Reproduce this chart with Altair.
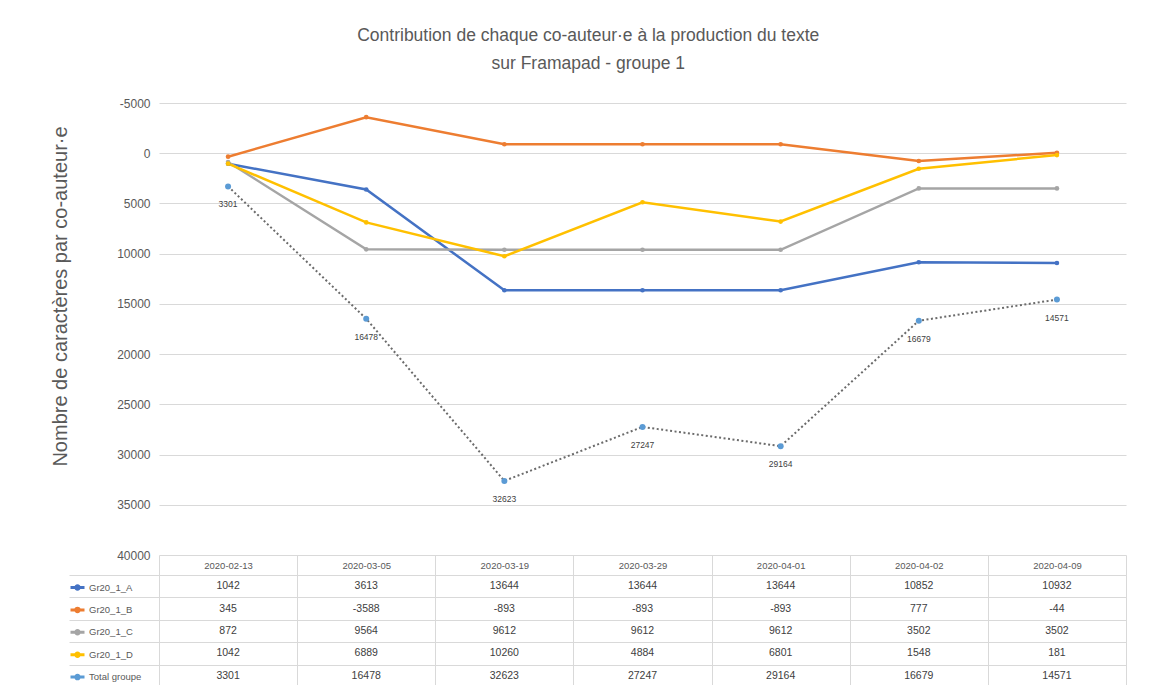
import altair as alt
import pandas as pd

dates = ["2020-02-13", "2020-03-05", "2020-03-19", "2020-03-29",
         "2020-04-01", "2020-04-02", "2020-04-09"]
series = ["Gr20_1_A", "Gr20_1_B", "Gr20_1_C", "Gr20_1_D", "Total groupe"]
values_A = [1042, 3613, 13644, 13644, 13644, 10852, 10932]
values_B = [345, -3588, -893, -893, -893, 777, -44]
values_C = [872, 9564, 9612, 9612, 9612, 3502, 3502]
values_D = [1042, 6889, 10260, 4884, 6801, 1548, 181]
values_T = [3301, 16478, 32623, 27247, 29164, 16679, 14571]
y_ticks = [-5000, 0, 5000, 10000, 15000, 20000, 25000, 30000, 35000, 40000]
colors = ["#4472C4", "#ED7D31", "#A5A5A5", "#FFC000", "#5B9BD5"]

rows = []
for s, vals in zip(series, [values_A, values_B, values_C, values_D, values_T]):
    for d, v in zip(dates, vals):
        rows.append({"date": d, "series": s, "value": v, "label": str(v)})
df = pd.DataFrame(rows)

FONT = "Liberation Sans, Arial, sans-serif"
GRID = "#d9d9d9"
TXT = "#595959"

SYMBOL = "M-1,0L1,0M-0.25,0a0.25,0.25 0 1,0 0.5,0a0.25,0.25 0 1,0 -0.5,0"

x_top = alt.X("date:O", sort=dates, scale=alt.Scale(type="point", padding=0.5), axis=None)
y_top = alt.Y(
    "value:Q",
    scale=alt.Scale(domain=[-5000, 40000], reverse=True, nice=False, zero=False),
    axis=alt.Axis(
        values=y_ticks, labelExpr="'' + datum.value", grid=True, gridColor=GRID,
        domain=False, ticks=False, labelFont=FONT, labelFontSize=12,
        labelColor=TXT, labelPadding=9,
        title="Nombre de caractères par co-auteur·e", titleFont=FONT,
        titleFontSize=20, titleFontWeight="normal", titleColor=TXT,
        titleX=-93, titleY=193, titleBaseline="alphabetic",
    ),
)

color_enc = alt.Color(
    "series:N",
    scale=alt.Scale(domain=series, range=colors),
    legend=alt.Legend(
        orient="none", legendX=-90, legendY=476, title=None,
        symbolType=SYMBOL, symbolSize=196, symbolStrokeWidth=3,
        labelFont=FONT, labelFontSize=9.5, labelColor=TXT, labelOffset=3,
        rowPadding=5.4, padding=0,
    ),
)

base = alt.Chart(df)
lines = base.transform_filter("datum.series != 'Total groupe'").mark_line(
    strokeWidth=2.5, point=alt.OverlayMarkDef(filled=True, size=22)
).encode(x=x_top, y=y_top, color=color_enc)

total = base.transform_filter("datum.series == 'Total groupe'")
total_line = total.mark_line(strokeDash=[2, 2.5], strokeWidth=2, color="#6b6b6b").encode(x=x_top, y=y_top)
total_pts = total.mark_circle(size=36, color="#5B9BD5", opacity=1).encode(x=x_top, y=y_top)
total_lbl = total.mark_text(dy=18, fontSize=8.5, font=FONT, color="#404040").encode(
    x=x_top, y=y_top, text="label:N")

top = alt.layer(lines, total_line, total_pts, total_lbl).properties(width=967, height=452)

table = base.mark_text(fontSize=10.5, font=FONT, color="#404040").encode(
    x=alt.X("date:O", sort=dates,
            scale=alt.Scale(type="band", paddingInner=0, paddingOuter=0),
            axis=alt.Axis(orient="top", title=None, tickBand="extent", tickSize=20,
                          tickColor=GRID, grid=True, gridColor=GRID, domainColor=GRID,
                          labelAngle=0, labelBaseline="middle", labelPadding=-10,
                          labelFont=FONT, labelFontSize=9.5, labelColor=TXT)),
    y=alt.Y("series:N", sort=series,
            scale=alt.Scale(type="band", paddingInner=0, paddingOuter=0),
            axis=alt.Axis(title=None, tickBand="extent", tickSize=90, tickColor=GRID,
                          grid=True, gridColor=GRID, domainColor=GRID, labels=False)),
    text="label:N",
).properties(width=967, height=112)

chart = alt.VConcatChart(
    vconcat=[top, table], spacing=20, bounds="flush",
).resolve_scale(color="independent").resolve_legend(color="independent").properties(
    title=alt.TitleParams(
        text=["Contribution de chaque co-auteur·e à la production du texte",
              "sur Framapad - groupe 1"],
        fontSize=17.5, font=FONT, color=TXT, fontWeight="normal",
        lineHeight=28, anchor="middle", offset=25,
    ),
    padding={"top": 18, "left": 41, "right": 5, "bottom": 5},
).configure_view(stroke=None)

chart.save("out.html", embed_options={"renderer": "svg", "actions": False})
